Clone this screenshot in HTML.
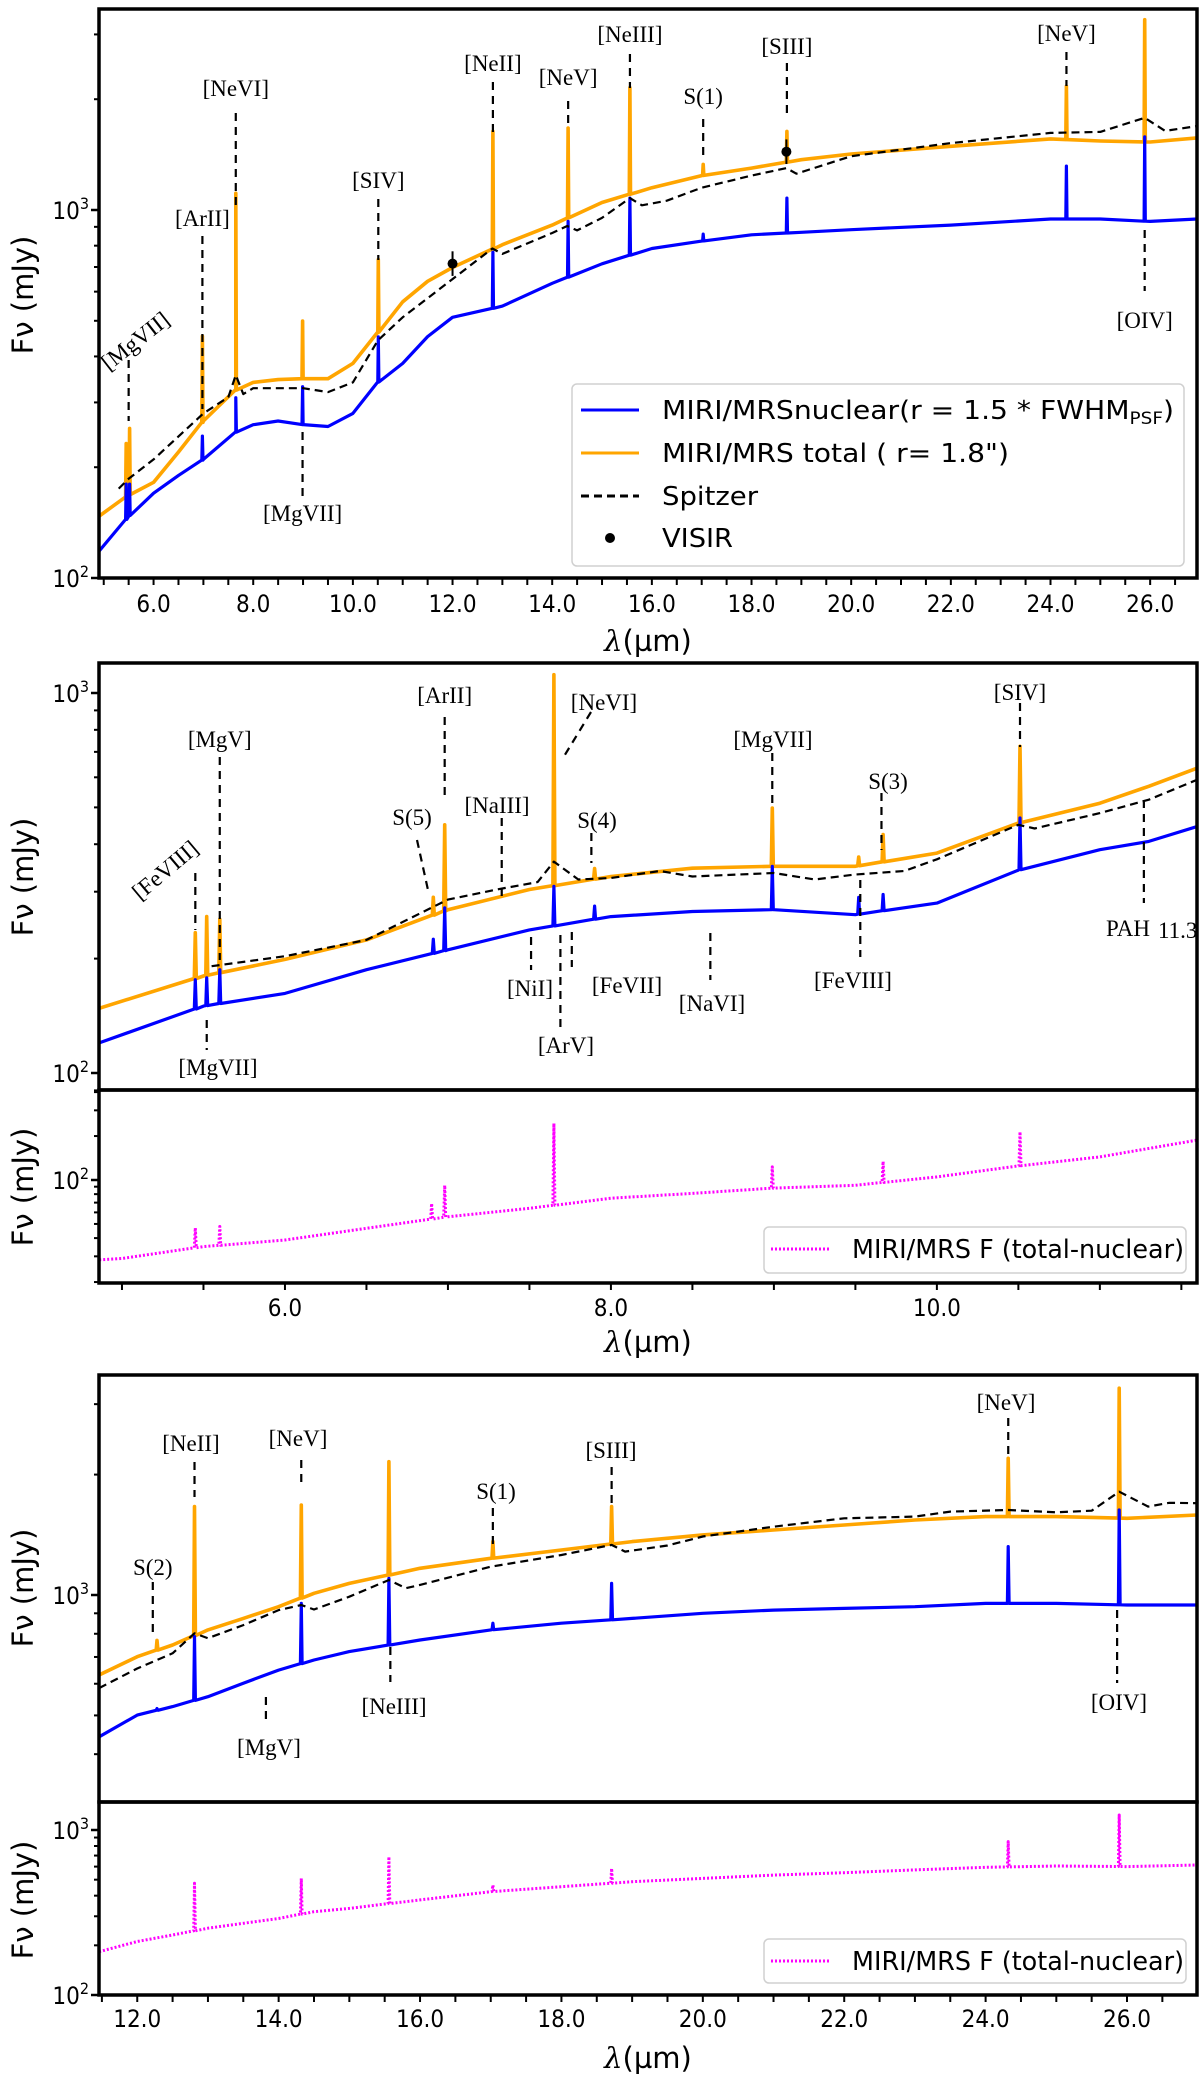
<!DOCTYPE html>
<html><head><meta charset="utf-8">
<style>
html,body{margin:0;padding:0;background:#fff;}
svg{display:block;}
.tick{font-family:"DejaVu Sans Condensed","Liberation Sans Narrow","DejaVu Sans",sans-serif;font-size:24px;fill:#000;}
.ann{font-family:"Liberation Serif","DejaVu Serif",serif;font-size:23px;fill:#000;}
.leg{font-family:"DejaVu Sans Condensed","Liberation Sans Narrow","DejaVu Sans",sans-serif;font-size:26px;fill:#000;}
.ylab{font-family:"DejaVu Sans","Liberation Sans",sans-serif;font-size:29px;fill:#000;}
</style></head>
<body>
<svg id="fig" xmlns="http://www.w3.org/2000/svg" width="1200" height="2077" viewBox="0 0 1200 2077"></svg>
<script>
// ---------- Panel 1 data (full range) ----------
const p1Wave = [4.9,5.5,6.0,6.5,7.0,7.65,8.0,8.5,9.0,9.5,10.0,10.5,11.0,11.5,12.0,13.0,14.0,15.0,16.0,17.0,18.0,19.0,20.0,22.0,24.0,25.0,26.0,26.94];
const p1Total = [147,168,182,220,267,324,340,346,348,348,383,464,563,640,698,805,910,1048,1150,1240,1300,1370,1420,1490,1560,1540,1530,1570];
const p1Nuclear = [118,147,170,190,210,249,261,267,261,258,280,340,383,453,511,548,632,714,786,823,856,870,884,910,945,945,931,945];
const p1SpWave = [5.3,5.5,6.0,7.0,7.5,7.65,7.8,8.0,9.0,9.5,10.0,10.5,11.0,12.0,12.8,13.0,14.0,14.3,14.5,15.0,15.56,15.8,16.3,17.0,18.0,18.7,18.9,20.0,22.0,24.0,25.0,25.89,26.3,26.94];
const p1Spitzer = [175,186,210,280,310,356,316,328,328,320,340,442,511,649,786,760,866,905,880,952,1077,1030,1060,1150,1240,1300,1255,1400,1520,1620,1630,1780,1640,1690];
const p1Lines = [5.45,5.52,6.98,7.65,8.99,10.51,12.81,14.32,15.56,17.03,18.71,24.32,25.89];
const p1TotalPeak = [232,255,454,1110,499,733,1635,1670,2150,1330,1635,2170,3290];
const p1NuclearPeak = [180,180,243,309,331,452,768,931,1077,860,1077,1316,1580];
const p1VisirWave = [12.0,18.7];
const p1VisirFlux = [715,1440];
// ---------- Panel 2 data (short wavelengths) ----------
const p2Wave = [4.86,5.5,6.0,6.5,7.0,7.5,8.0,8.5,9.0,9.5,10.0,10.5,11.0,11.3,11.6];
const p2Total = [148,180,199,224,269,304,329,346,350,350,379,455,513,568,635];
const p2Nuclear = [120,150,162,187,211,238,258,266,269,261,280,342,387,407,446];
const p2SpWave = [5.55,6.0,6.5,7.0,7.3,7.55,7.65,7.8,8.0,8.3,8.5,9.0,9.25,9.5,9.8,10.0,10.5,10.6,11.0,11.3,11.6];
const p2Spitzer = [191,203,224,286,304,318,360,323,326,340,329,336,323,333,340,365,450,440,483,524,592];
const p2Lines = [5.45,5.52,5.6,6.91,6.98,7.65,7.9,8.99,9.52,9.67,10.51];
const p2TotalPeak = [234,258,254,290,450,1117,345,498,370,424,724];
const p2NuclearPeak = [176,178,187,225,272,310,275,350,290,295,469];
const p2DiffWave = [4.86,5.0,5.5,6.0,6.5,7.0,7.5,8.0,8.5,9.0,9.5,10.0,10.5,11.0,11.6];
const p2Diff = [28.4,29,35,38.8,46.7,56,64,75,81,88,92,105,125,144,188];
const p2DiffLines = [5.45,5.6,6.9,6.98,7.65,8.99,9.67,10.51];
const p2DiffPeak = [47,48,69,92,244,123,134,214];
// ---------- Panel 3 data (long wavelengths) ----------
const p3Wave = [11.46,12,12.5,13,13.5,14,14.5,15,16,17,18,19,20,21,22,23,24,25,26,26.99];
const p3Total = [631,701,750,818,874,935,1010,1069,1166,1235,1296,1360,1413,1454,1496,1540,1570,1570,1555,1585];
const p3Nuclear = [442,501,526,557,602,649,688,722,772,818,850,874,900,917,926,935,953,953,944,944];
const p3SpWave = [11.46,12,12.5,12.81,13,13.5,14,14.32,14.5,15,15.56,15.8,16,17,18,18.71,18.9,19.5,20,21,22,23,23.5,24.32,25,25.5,25.89,26.3,26.6,26.99];
const p3Spitzer = [585,655,715,802,780,841,917,944,920,990,1090,1040,1060,1177,1259,1334,1284,1330,1400,1482,1555,1570,1616,1631,1610,1625,1812,1663,1700,1696];
const p3Lines = [12.28,12.81,14.32,15.56,17.03,18.71,24.32,25.89];
const p3TotalPeak = [770,1663,1679,2154,1360,1663,2197,3288];
const p3NuclearPeak = [520,787,953,1101,850,1069,1321,1631];
const p3Diff = [183,211,231,254,272,291,320,335,377,423,453,486,509,533,551,573,594,605,600,614];
const p3DiffLines = [12.81,14.32,15.56,17.03,18.71,24.32,25.89];
const p3DiffPeak = [475,509,689,464,585,850,1233];
const xTickLabels1 = ['6.0','8.0','10.0','12.0','14.0','16.0','18.0','20.0','22.0','24.0','26.0'];
const xTickLabels2 = ['6.0','8.0','10.0'];
const xTickLabels3 = ['12.0','14.0','16.0','18.0','20.0','22.0','24.0','26.0'];

const NS = 'http://www.w3.org/2000/svg';
const svg = document.getElementById('fig');
function mk(tag, parent){ const e = document.createElementNS(NS, tag); (parent||svg).appendChild(e); return e; }

function makePanel(id, x0, x1, xmin, xmax, top, bottom, yRef, logRef, decadePx){
  const g = mk('g');
  
  
  const cp = mk('clipPath');
  cp.setAttribute('id', 'clip-' + id);
  const r = mk('rect', cp);
  r.setAttribute('x', x0); r.setAttribute('y', top); r.setAttribute('width', x1 - x0); r.setAttribute('height', bottom - top);
  const P = {g, x0, x1, xmin, xmax, top, bottom,
    X: w => x0 + (w - xmin) / (xmax - xmin) * (x1 - x0),
    Y: v => yRef + (logRef - Math.log10(v)) * decadePx,
    clip: 'url(#clip-' + id + ')'};
  return P;
}
function interp(ws, vs, w){
  if (w <= ws[0]) return vs[0];
  for (let i = 1; i < ws.length; i++) if (w <= ws[i]) {
    const t = (w - ws[i-1]) / (ws[i] - ws[i-1]);
    return Math.pow(10, Math.log10(vs[i-1]) * (1 - t) + Math.log10(vs[i]) * t);
  }
  return vs[vs.length - 1];
}
function spectrum(P, ws, vs, lines, peaks, d){
  const pts = ws.map((w, i) => [w, vs[i]]);
  lines.forEach((w, i) => { const c = interp(ws, vs, w); pts.push([w - d, c], [w, peaks[i]], [w + d, c]); });
  pts.sort((a, b) => a[0] - b[0]);
  return pts.map(p => P.X(p[0]).toFixed(1) + ',' + P.Y(p[1]).toFixed(1)).join(' ');
}
function drawLine(P, pts, color, width, dash, name){
  const pl = mk('polyline', P.g);
  
  
  pl.setAttribute('points', pts);
  pl.setAttribute('fill', 'none');
  pl.setAttribute('stroke', color);
  pl.setAttribute('stroke-width', width);
  pl.setAttribute('stroke-linejoin', 'round');
  if (dash) pl.setAttribute('stroke-dasharray', dash);
  pl.setAttribute('clip-path', P.clip);
}
function frame(P, xTicks, xLabels, labelY, ticksOn){
  const f = mk('rect', P.g);
  
  
  f.setAttribute('x', P.x0); f.setAttribute('y', P.top);
  f.setAttribute('width', P.x1 - P.x0); f.setAttribute('height', P.bottom - P.top);
  f.setAttribute('fill', 'none'); f.setAttribute('stroke', '#000'); f.setAttribute('stroke-width', 3.5);
  for (let d = 0; d < 5; d++) for (let m = 1; m < 10; m++) {
    const v = m * Math.pow(10, d);
    const y = P.Y(v);
    if (y < P.top - 0.5 || y > P.bottom + 0.5) continue;
    const t = mk('line', P.g);
    
    
    t.setAttribute('x1', P.x0 - (m === 1 ? 8 : 5)); t.setAttribute('x2', P.x0);
    t.setAttribute('y1', y); t.setAttribute('y2', y);
    t.setAttribute('stroke', '#000'); t.setAttribute('stroke-width', m === 1 ? 2.5 : 2);
    if (m === 1) {
      const tx = mk('text', P.g);
      
      
      tx.setAttribute('class', 'tick');
      tx.setAttribute('x', P.x0 - 10); tx.setAttribute('y', y + 9);
      tx.setAttribute('text-anchor', 'end');
      tx.innerHTML = '10<tspan dy="-10" font-size="16">' + d + '</tspan>';
    }
  }
  if (!ticksOn) return;
  for (let w = Math.ceil(P.xmin * 2) / 2; w <= P.xmax; w += 0.5) {
    const x = P.X(w);
    const t = mk('line', P.g);
    
    
    t.setAttribute('x1', x); t.setAttribute('x2', x);
    t.setAttribute('y1', P.bottom); t.setAttribute('y2', P.bottom + 7);
    t.setAttribute('stroke', '#000'); t.setAttribute('stroke-width', 2);
  }
  xLabels.forEach(s => {
    const tx = mk('text', P.g);
    
    
    tx.setAttribute('class', 'tick');
    tx.setAttribute('x', P.X(parseFloat(s))); tx.setAttribute('y', labelY);
    tx.setAttribute('text-anchor', 'middle');
    tx.textContent = s;
  });
}
function xTitle(x, y){
  const t = mk('text');
  
  
  t.setAttribute('class', 'ylab');
  t.setAttribute('x', x); t.setAttribute('y', y);
  t.setAttribute('text-anchor', 'middle');
  t.innerHTML = '<tspan font-style="italic" font-family="DejaVu Serif, serif">λ</tspan>(µm)';
}
function yTitle(cy){
  const t = mk('text');
  
  
  t.setAttribute('class', 'ylab');
  t.setAttribute('transform', 'translate(33,' + cy + ') rotate(-90)');
  t.setAttribute('text-anchor', 'middle');
  t.textContent = 'Fν (mJy)';
}
function ann(P, label, w, ly, y1, y2, rot, lx){
  const x = P.X(w);
  if (y1 !== null) {
    const l = mk('line', P.g);
    
    
    l.setAttribute('x1', x); l.setAttribute('x2', x); l.setAttribute('y1', y1); l.setAttribute('y2', y2);
    l.setAttribute('stroke', '#000'); l.setAttribute('stroke-width', 2.2); l.setAttribute('stroke-dasharray', '8,6');
  }
  const t = mk('text', P.g);
  
  
  t.setAttribute('class', 'ann');
  const tx = lx !== undefined ? lx : x;
  if (rot) { t.setAttribute('transform', 'translate(' + tx + ',' + ly + ') rotate(' + rot + ')'); }
  else { t.setAttribute('x', tx); t.setAttribute('y', ly); }
  t.setAttribute('text-anchor', 'middle');
  t.textContent = label;
}
function slant(P, x1, y1, x2, y2){
  const l = mk('line', P.g);
  
  
  l.setAttribute('x1', x1); l.setAttribute('x2', x2); l.setAttribute('y1', y1); l.setAttribute('y2', y2);
  l.setAttribute('stroke', '#000'); l.setAttribute('stroke-width', 2.2); l.setAttribute('stroke-dasharray', '8,6');
}
function legendBox(g, x, y, w, h){
  const r = mk('rect', g);
  
  
  r.setAttribute('x', x); r.setAttribute('y', y); r.setAttribute('width', w); r.setAttribute('height', h);
  r.setAttribute('rx', 5); r.setAttribute('fill', '#fff'); r.setAttribute('fill-opacity', 0.85);
  r.setAttribute('stroke', '#d0d0d0'); r.setAttribute('stroke-width', 1.5);
}
function legendEntry(g, x, y, color, dash, kind, html, len){
  if (kind === 'dot') {
    const c = mk('circle', g);
    
    
    c.setAttribute('cx', x + 29); c.setAttribute('cy', y); c.setAttribute('r', 5); c.setAttribute('fill', '#000');
  } else {
    const l = mk('line', g);
    
    
    l.setAttribute('x1', x); l.setAttribute('x2', x + 58); l.setAttribute('y1', y); l.setAttribute('y2', y);
    l.setAttribute('stroke', color); l.setAttribute('stroke-width', 3);
    if (dash) l.setAttribute('stroke-dasharray', dash);
  }
  const t = mk('text', g);
  
  
  t.setAttribute('class', 'leg');
  t.setAttribute('x', x + 81); t.setAttribute('y', y + 9);
  t.setAttribute('textLength', len); t.setAttribute('lengthAdjust', 'spacingAndGlyphs');
  t.innerHTML = html;
}

// ================= PANEL 1 =================
const P1 = makePanel('panel-full', 99, 1197, 4.905, 26.94, 9, 578, 210, 3, 368);
drawLine(P1, spectrum(P1, p1Wave, p1Total, p1Lines, p1TotalPeak, 0.012), '#ffa500', 3.6, null, 'total-spectrum');
drawLine(P1, spectrum(P1, p1Wave, p1Nuclear, p1Lines, p1NuclearPeak, 0.012), '#0000ff', 3.2, null, 'nuclear-spectrum');
drawLine(P1, p1SpWave.map((w, i) => P1.X(w).toFixed(1) + ',' + P1.Y(p1Spitzer[i]).toFixed(1)).join(' '), '#000', 2.2, '8,5', 'spitzer-spectrum');
p1VisirWave.forEach((w, i) => {
  const c = mk('circle', P1.g);
  
  
  c.setAttribute('cx', P1.X(w)); c.setAttribute('cy', P1.Y(p1VisirFlux[i])); c.setAttribute('r', 5);
  const e = mk('line', P1.g);
  
  
  e.setAttribute('x1', P1.X(w)); e.setAttribute('x2', P1.X(w));
  e.setAttribute('y1', P1.Y(p1VisirFlux[i] * 1.08)); e.setAttribute('y2', P1.Y(p1VisirFlux[i] / 1.08));
  e.setAttribute('stroke', '#000'); e.setAttribute('stroke-width', 2);
});
frame(P1, true, xTickLabels1, 612, true);
ann(P1, '[MgVII]', 5.5, 347, 360, 421, -38, 140);
ann(P1, '[ArII]', 6.98, 226, 236, 409);
ann(P1, '[NeVI]', 7.65, 96, 113, 207);
ann(P1, '[SIV]', 10.51, 188, 199, 260);
ann(P1, '[NeII]', 12.81, 71, 82, 132);
ann(P1, '[NeV]', 14.32, 85, 101, 128);
ann(P1, '[NeIII]', 15.56, 42, 54, 88);
ann(P1, 'S(1)', 17.03, 104, 119, 157);
ann(P1, '[SIII]', 18.71, 54, 63, 115);
ann(P1, '[NeV]', 24.32, 41, 52, 86);
ann(P1, '[OIV]', 25.89, 328, 230, 291);
ann(P1, '[MgVII]', 8.99, 521, 432, 498);
legendBox(P1.g, 572, 384, 612, 182);
legendEntry(P1.g, 581, 410, '#0000ff', null, 'line', 'MIRI/MRSnuclear(r = 1.5 * FWHM<tspan font-size="17" dy="5">PSF</tspan><tspan dy="-5">)</tspan>', 512);
legendEntry(P1.g, 581, 453, '#ffa500', null, 'line', 'MIRI/MRS total ( r= 1.8")', 347);
legendEntry(P1.g, 581, 496, '#000', '8,5', 'line', 'Spitzer', 96);
legendEntry(P1.g, 581, 538, '#000', null, 'dot', 'VISIR', 71);
xTitle(648, 651);
yTitle(295);

// ================= PANEL 2 =================
const P2 = makePanel('panel-short-upper', 99, 1197, 4.859, 11.596, 663, 1090, 693, 3, 380);
drawLine(P2, spectrum(P2, p2Wave, p2Total, p2Lines, p2TotalPeak, 0.006), '#ffa500', 3.6, null, 'total-spectrum');
drawLine(P2, spectrum(P2, p2Wave, p2Nuclear, p2Lines, p2NuclearPeak, 0.006), '#0000ff', 3.2, null, 'nuclear-spectrum');
drawLine(P2, p2SpWave.map((w, i) => P2.X(w).toFixed(1) + ',' + P2.Y(p2Spitzer[i]).toFixed(1)).join(' '), '#000', 2.2, '8,5', 'spitzer-spectrum');
frame(P2, false, [], 0, false);
ann(P2, '[FeVIII]', 5.45, 876, 873, 930, -40, 170);
ann(P2, '[MgV]', 5.6, 747, 757, 960);
ann(P2, '[MgVII]', 5.52, 1075, 1020, 1050, 0, 218);
ann(P2, 'S(5)', 6.9, 825, null, null, 0, 412);
slant(P2, 417, 840, 428, 890);
ann(P2, '[ArII]', 6.98, 703, 717, 797);
ann(P2, '[NaIII]', 7.33, 813, 818, 897, 0, 497);
ann(P2, '[NeVI]', 7.65, 710, null, null, 0, 604);
slant(P2, 591, 712, 563, 758);
ann(P2, 'S(4)', 7.88, 828, 833, 863, 0, 597);
ann(P2, '[NiI]', 7.51, 996, 937, 970, 0, 530);
ann(P2, '[FeVII]', 7.76, 993, 932, 967, 0, 627);
ann(P2, '[ArV]', 7.69, 1053, 935, 1027, 0, 566);
ann(P2, '[NaVI]', 8.61, 1011, 933, 980, 0, 712);
ann(P2, '[MgVII]', 8.99, 747, 753, 807, 0, 773);
ann(P2, 'S(3)', 9.66, 789, 793, 850, 0, 888);
ann(P2, '[FeVIII]', 9.53, 988, 880, 957, 0, 853);
ann(P2, '[SIV]', 10.51, 700, 703, 747, 0, 1020);
ann(P2, 'PAH', 11.27, 936, 800, 903, 0, 1128);
const pahSub = mk('text', P2.g);


pahSub.setAttribute('class', 'ann'); pahSub.setAttribute('font-size', '15'); pahSub.setAttribute('x', 1158); pahSub.setAttribute('y', 938);
pahSub.textContent = '11.3';
yTitle(877);

const P2L = makePanel('panel-short-lower', 99, 1197, 4.859, 11.596, 1090, 1283, 1180, 2, 146);
drawLine(P2L, spectrum(P2L, p2DiffWave, p2Diff, p2DiffLines, p2DiffPeak, 0.006), '#ff00ff', 3, '2,2', 'difference-spectrum');
frame(P2L, true, xTickLabels2, 1316, true);
legendBox(P2L.g, 764, 1227, 422, 46);
legendEntry(P2L.g, 771, 1249, '#ff00ff', '2,2', 'line', 'MIRI/MRS F (total-nuclear)', 332);
xTitle(648, 1352);
yTitle(1187);

// ================= PANEL 3 =================
const P3 = makePanel('panel-long-upper', 99, 1197, 11.459, 26.99, 1375, 1802, 1595, 3, 400);
drawLine(P3, spectrum(P3, p3Wave, p3Total, p3Lines, p3TotalPeak, 0.012), '#ffa500', 3.6, null, 'total-spectrum');
drawLine(P3, spectrum(P3, p3Wave, p3Nuclear, p3Lines, p3NuclearPeak, 0.012), '#0000ff', 3.2, null, 'nuclear-spectrum');
drawLine(P3, p3SpWave.map((w, i) => P3.X(w).toFixed(1) + ',' + P3.Y(p3Spitzer[i]).toFixed(1)).join(' '), '#000', 2.2, '8,5', 'spitzer-spectrum');
frame(P3, false, [], 0, false);
ann(P3, 'S(2)', 12.22, 1575, 1582, 1633);
ann(P3, '[NeII]', 12.81, 1451, 1462, 1497, 0, 191);
ann(P3, '[NeV]', 14.32, 1446, 1460, 1485, 0, 298);
ann(P3, 'S(1)', 17.03, 1499, 1508, 1550, 0, 496);
ann(P3, '[SIII]', 18.71, 1458, 1467, 1503, 0, 611);
ann(P3, '[NeV]', 24.32, 1410, 1418, 1460, 0, 1006);
ann(P3, '[MgV]', 13.82, 1755, 1697, 1725, 0, 269);
ann(P3, '[NeIII]', 15.58, 1714, 1647, 1682, 0, 394);
ann(P3, '[OIV]', 25.86, 1710, 1610, 1683, 0, 1119);
yTitle(1588);

const P3L = makePanel('panel-long-lower', 99, 1197, 11.459, 26.99, 1802, 1995, 1830, 3, 165);
drawLine(P3L, spectrum(P3L, p3Wave, p3Diff, p3DiffLines, p3DiffPeak, 0.012), '#ff00ff', 3, '2,2', 'difference-spectrum');
frame(P3L, true, xTickLabels3, 2027, true);
legendBox(P3L.g, 764, 1939, 422, 44);
legendEntry(P3L.g, 771, 1961, '#ff00ff', '2,2', 'line', 'MIRI/MRS F (total-nuclear)', 332);
xTitle(648, 2068);
yTitle(1900);
</script>
</body></html>
